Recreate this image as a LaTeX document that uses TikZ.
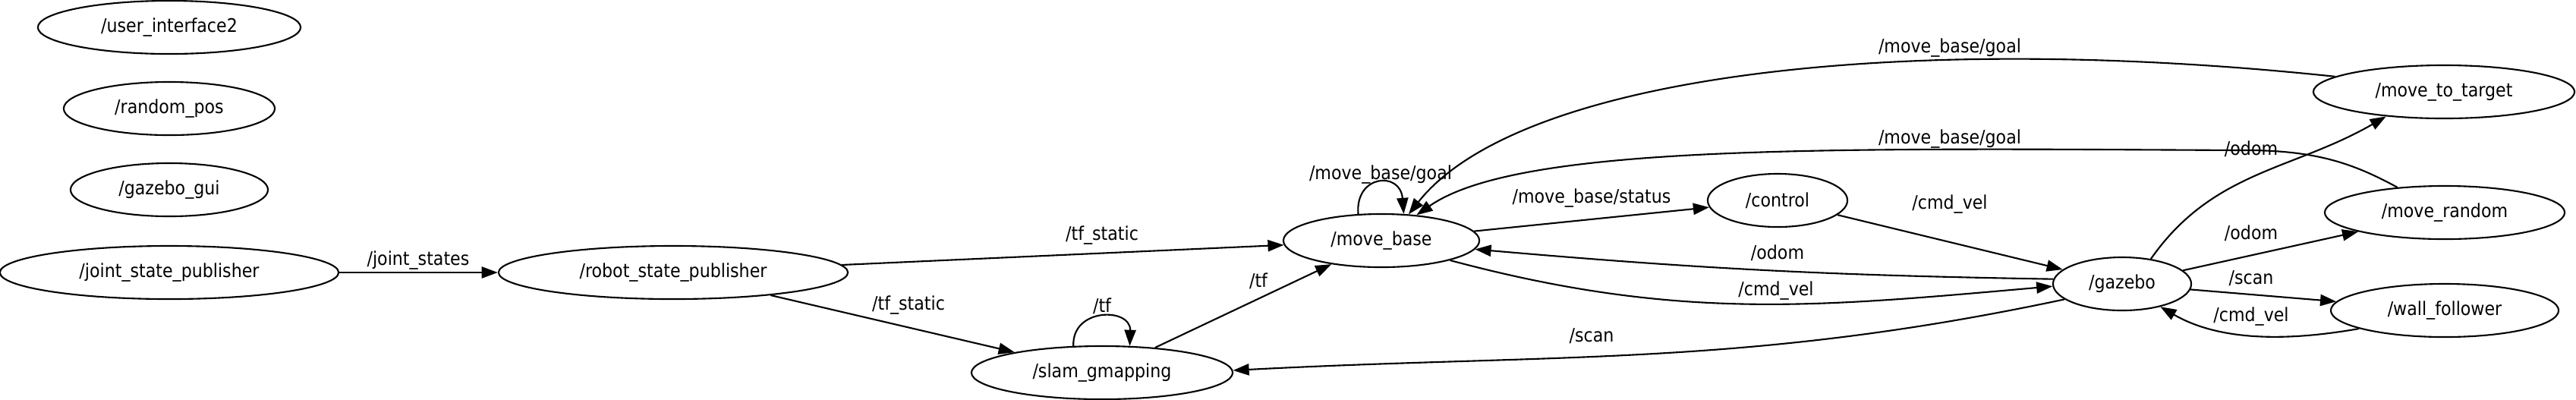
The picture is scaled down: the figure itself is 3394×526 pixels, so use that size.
\documentclass[tikz,border=0pt]{standalone}
\usepackage{fontspec}
\setmainfont{DejaVu Sans Condensed}
\usetikzlibrary{shapes.geometric, arrows.meta}
\tikzset{
	rosNode/.style={ellipse, draw=black, line width=.6pt, inner sep=0pt, minimum height=.7cm, font=\fontsize{7pt}{8pt}\selectfont},
	topic/.style={line width=.6pt, -{Triangle[length=6pt, width=4.3pt]}},
	topicLabel/.style={inner sep=0pt, font=\fontsize{7pt}{8pt}\selectfont}
}

\begin{document}
\begin{tikzpicture}[x=.01cm, y=-.01cm]
\useasboundingbox (0,0) rectangle (3394,526);
% nodes
\node[rosNode, minimum width=3.46cm] (userInterface) at (223,36) {/user\_interface2};
\node[rosNode, minimum width=2.78cm] (randomPos) at (223,143) {/random\_pos};
\node[rosNode, minimum width=2.60cm] (gazeboGui) at (223,250) {/gazebo\_gui};
\node[rosNode, minimum width=4.46cm] (jointPub) at (223,359) {/joint\_state\_publisher};
\node[rosNode, minimum width=4.60cm] (robotPub) at (887,359) {/robot\_state\_publisher};
\node[rosNode, minimum width=3.44cm] (slam) at (1452,491) {/slam\_gmapping};
\node[rosNode, minimum width=2.58cm] (moveBase) at (1820,317) {/move\_base};
\node[rosNode, minimum width=1.84cm] (control) at (2342,264) {/control};
\node[rosNode, minimum width=1.82cm] (gazebo) at (2796,374) {/gazebo};
\node[rosNode, minimum width=3.44cm] (moveTarget) at (3220,121) {/move\_to\_target};
\node[rosNode, minimum width=3.16cm] (moveRandom) at (3221,280) {/move\_random};
\node[rosNode, minimum width=3.00cm] (wallFollower) at (3221,409) {/wall\_follower};
\coordinate (randomBend) at (2950,198);
% topics
\draw[topic] (jointPub) -- (robotPub);
\draw[topic] (robotPub) -- (moveBase);
\draw[topic] (robotPub) -- (slam);
\draw[topic] (slam.137) .. controls (1412,405) and (1490,405) .. (slam.44);
\draw[topic] (slam) -- (moveBase);
\draw[topic] (moveBase.131) .. controls (1785,230) and (1845,225) .. (moveBase.50);
\draw[topic] (moveBase) -- (control);
\draw[topic] (control) -- (gazebo);
\draw[topic] (gazebo.176) to[bend left=2] (moveBase);
\draw[topic] (moveBase.-16) to[out=-15, in=185] (gazebo.182);
\draw[topic] (gazebo.195) to[out=192, in=3] (slam.1);
\draw[topic] (moveTarget.172) .. controls (2500,40) and (2000,100) .. (moveBase.44);
\draw[topic] (moveRandom.152) .. controls (3100,215) and (3050,197) .. (randomBend) .. controls (2400,195) and (2000,190) .. (moveBase.36);
\draw[topic] (gazebo.41) to[out=55, in=210] (moveTarget.-157);
\draw[topic] (gazebo) -- (moveRandom);
\draw[topic] (gazebo) -- (wallFollower);
\draw[topic] (wallFollower.192) to[out=190, in=-30, looseness=.9] (gazebo.-31);
% labels
\node[topicLabel] (lblJoint) at (551,343) {/joint\_states};
\node[topicLabel] (lblStaticA) at (1452,310) {/tf\_static};
\node[topicLabel] (lblStaticB) at (1197,402) {/tf\_static};
\node[topicLabel] (lblTfLoop) at (1452,403) {/tf};
\node[topicLabel] (lblTf) at (1658,370) {/tf};
\node[topicLabel] (lblGoalLoop) at (1819,230) {/move\_base/goal};
\node[topicLabel] (lblStatus) at (2097,261) {/move\_base/status};
\node[topicLabel] (lblOdomMb) at (2342,333) {/odom};
\node[topicLabel] (lblCmdMb) at (2340,383) {/cmd\_vel};
\node[topicLabel] (lblScanSlam) at (2097,443) {/scan};
\node[topicLabel] (lblGoalTarget) at (2569,63) {/move\_base/goal};
\node[topicLabel] (lblGoalRandom) at (2569,183) {/move\_base/goal};
\node[topicLabel] (lblCmdCtrl) at (2569,269) {/cmd\_vel};
\node[topicLabel] (lblOdomTarget) at (2966,196) {/odom};
\node[topicLabel] (lblOdomRandom) at (2966,307) {/odom};
\node[topicLabel] (lblScanWall) at (2966,367) {/scan};
\node[topicLabel] (lblCmdWall) at (2966,417) {/cmd\_vel};
\end{tikzpicture}
\end{document}
